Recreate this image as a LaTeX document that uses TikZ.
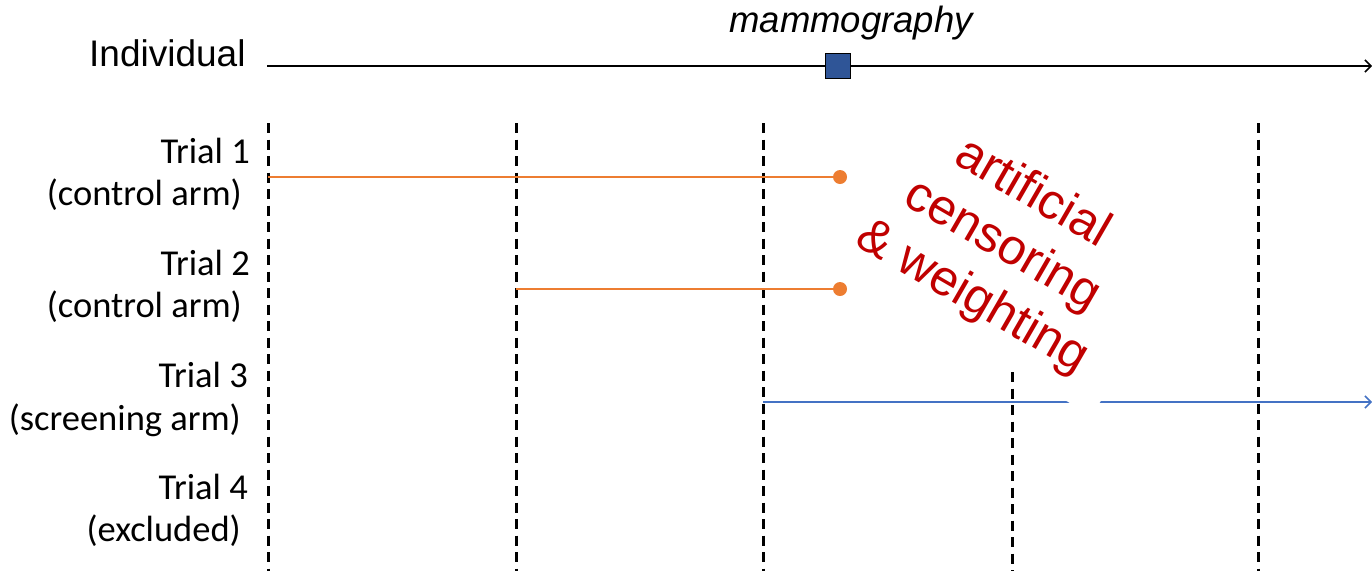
\documentclass[tikz,border=0pt]{standalone}
\usepackage{fontspec}
\setmainfont{Liberation Sans}
\newfontfamily\calibrifont{Carlito}
\usetikzlibrary{arrows.meta}
\definecolor{ctrl}{HTML}{ED7D31}
\definecolor{scrn}{HTML}{4472C4}
\definecolor{mammo}{HTML}{2F5597}
\definecolor{note}{HTML}{C00000}
\begin{document}
\begin{tikzpicture}[x=1pt,y=-1pt,
  trial/.style={font=\calibrifont\fontsize{36.5}{43}\selectfont, anchor=base east, inner sep=0pt},
  gridline/.style={line width=3pt, dash pattern=on 10pt off 6.5pt},
  tip/.style={-{Straight Barb[length=6pt,width=12pt,line width=1.5pt]}},
  ctrlline/.style={ctrl, line width=2.5pt},
  scrnline/.style={scrn, line width=2.5pt},
  enddot/.style={circle, fill=ctrl, inner sep=0pt, minimum size=14pt}]
\useasboundingbox (0,0) rectangle (1372,571);

% individual timeline
\node[anchor=base west, inner sep=0pt, font=\fontsize{37}{44}\selectfont] (ind) at (89,66) {Individual};
\coordinate (axS) at (267,66);
\coordinate (axE) at (1372,66);
\draw[line width=2pt, tip] (axS) -- (axE);
\node[draw=black, line width=1.5pt, fill=mammo, minimum size=25pt, inner sep=0pt] (mam) at (838,66) {};
\node[anchor=base, inner sep=0pt, font=\fontsize{36.5}{43}\selectfont\itshape] (mamlab) at (851,32) {mammography};

% trial start times
\foreach \x/\n in {268/a,516/b,763/c,1258/e}{
  \coordinate (t\n) at (\x,123);
  \coordinate (b\n) at (\x,571);
  \draw[gridline] (t\n) -- (b\n);
}
\coordinate (td) at (1012,372);
\coordinate (bd) at (1012,571);
\draw[gridline] (td) -- (bd);

% trial labels
\node[trial] (t1) at (250,163) {Trial 1};
\node[trial] (t1a) at (242,205) {(control arm)};
\node[trial] (t2) at (250,275) {Trial 2};
\node[trial] (t2a) at (242,317) {(control arm)};
\node[trial] (t3) at (248,387) {Trial 3};
\node[trial] (t3a) at (241,430) {(screening arm)};
\node[trial] (t4) at (248,499) {Trial 4};
\node[trial] (t4a) at (241,541) {(excluded)};

% follow-up in each trial
\coordinate (s1) at (268,177);
\node[enddot] (d1) at (840,177) {};
\draw[ctrlline] (s1) -- (d1.center);
\coordinate (s2) at (516,289);
\node[enddot] (d2) at (840,289) {};
\draw[ctrlline] (s2) -- (d2.center);
\coordinate (s3) at (763,402);
\coordinate (e3) at (1372,402);
\draw[scrnline, tip] (s3) -- (e3);

% annotation
\node[rotate=-30, fill=white, text=note, align=center, inner sep=0pt,
      minimum width=326pt, minimum height=204pt,
      font=\fontsize{50}{60}\selectfont] (note) at (1002,246)
  {artificial\\censoring\\\& weighting};
\end{tikzpicture}
\end{document}
